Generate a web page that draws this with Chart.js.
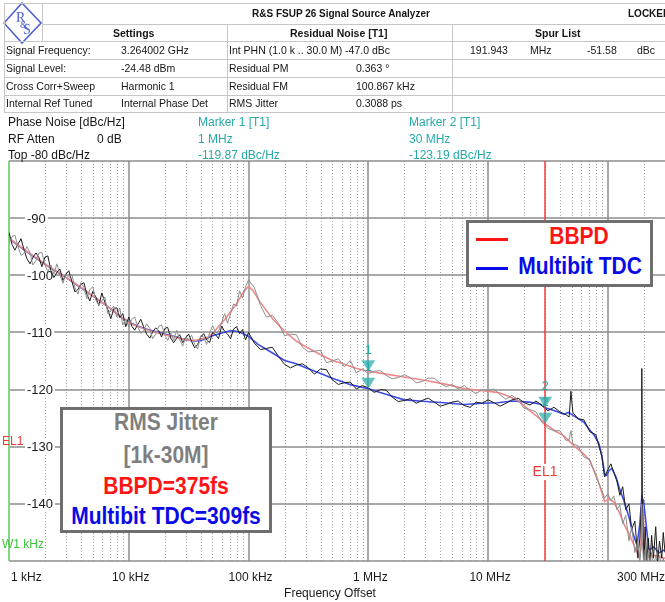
<!DOCTYPE html>
<html>
<head>
<meta charset="utf-8">
<script src="https://cdn.jsdelivr.net/npm/chart.js@4/dist/chart.umd.min.js"></script>
<style>
  html, body { margin:0; padding:0; background:#fff; width:665px; height:602px; overflow:hidden; position:relative;
    font-family:"Liberation Sans", Arial, sans-serif; }
  #chart { position:absolute; left:0; top:0; }
  .t { position:absolute; white-space:nowrap; font-size:10.5px; line-height:12px; color:#151515; }
  .b { font-weight:bold; }
  .hl { position:absolute; height:1px; background:#c6c6c6; }
  .vl { position:absolute; width:1px; background:#c6c6c6; }
  .info { position:absolute; white-space:nowrap; font-size:12px; line-height:14px; color:#151515; }
  .teal { color:#27a9a9; }
  .box { position:absolute; border:3px solid #6e6e6e; background:#fff; box-sizing:border-box; }
  .big { position:absolute; font-weight:bold; font-size:21px; line-height:21px; white-space:nowrap;
    transform:translate(-50%,-50%) scaleY(1.12); }
</style>
</head>
<body>
<canvas id="chart" width="665" height="602"></canvas>

<!-- instrument header table -->
<svg style="position:absolute;left:3px;top:2px" width="40" height="42">
  <polygon points="19,1 38,21 19,41 1,21" fill="none" stroke="#4f5fcf" stroke-width="1.6"/>
  <text x="13" y="20" font-family="Liberation Serif" font-size="14" fill="#4f5fcf">R</text>
  <text x="17" y="26" font-family="Liberation Serif" font-size="10" fill="#4f5fcf">&amp;</text>
  <text x="20" y="32" font-family="Liberation Serif" font-size="14" fill="#4f5fcf">S</text>
</svg>
<div class="hl" style="left:4px;top:3px;width:661px"></div>
<div class="vl" style="left:4px;top:3px;height:110px"></div>
<div class="vl" style="left:42px;top:3px;height:38px"></div>
<div class="hl" style="left:42px;top:24px;width:623px"></div>
<div class="hl" style="left:4px;top:41px;width:661px"></div>
<div class="hl" style="left:4px;top:59px;width:661px"></div>
<div class="hl" style="left:4px;top:77px;width:661px"></div>
<div class="hl" style="left:4px;top:95px;width:661px"></div>
<div class="hl" style="left:4px;top:112px;width:661px"></div>
<div class="vl" style="left:227px;top:24px;height:88px"></div>
<div class="vl" style="left:452px;top:24px;height:88px"></div>

<div class="t b" style="left:252px;top:8px;font-size:10px">R&amp;S FSUP 26 Signal Source Analyzer</div>
<div class="t b" style="left:628px;top:8px;font-size:10px">LOCKED</div>
<div class="t b" style="left:113px;top:27px">Settings</div>
<div class="t b" style="left:290px;top:27px">Residual Noise [T1]</div>
<div class="t b" style="left:535px;top:27px">Spur List</div>

<div class="t" style="left:6px;top:44px">Signal Frequency:</div>
<div class="t" style="left:121px;top:44px">3.264002 GHz</div>
<div class="t" style="left:229px;top:44px">Int PHN (1.0 k .. 30.0 M) -47.0 dBc</div>
<div class="t" style="left:470px;top:44px">191.943</div>
<div class="t" style="left:530px;top:44px">MHz</div>
<div class="t" style="left:587px;top:44px">-51.58</div>
<div class="t" style="left:637px;top:44px">dBc</div>

<div class="t" style="left:6px;top:62px">Signal Level:</div>
<div class="t" style="left:121px;top:62px">-24.48 dBm</div>
<div class="t" style="left:229px;top:62px">Residual PM</div>
<div class="t" style="left:356px;top:62px">0.363 °</div>

<div class="t" style="left:6px;top:80px">Cross Corr+Sweep</div>
<div class="t" style="left:121px;top:80px">Harmonic 1</div>
<div class="t" style="left:229px;top:80px">Residual FM</div>
<div class="t" style="left:356px;top:80px">100.867 kHz</div>

<div class="t" style="left:6px;top:97px">Internal Ref Tuned</div>
<div class="t" style="left:121px;top:97px">Internal Phase Det</div>
<div class="t" style="left:229px;top:97px">RMS Jitter</div>
<div class="t" style="left:356px;top:97px">0.3088 ps</div>

<!-- trace settings and marker readouts -->
<div class="info" style="left:8px;top:115px">Phase Noise [dBc/Hz]</div>
<div class="info" style="left:8px;top:132px">RF Atten</div>
<div class="info" style="left:97px;top:132px">0 dB</div>
<div class="info" style="left:8px;top:148px">Top -80 dBc/Hz</div>
<div class="info teal" style="left:198px;top:115px">Marker 1 [T1]</div>
<div class="info teal" style="left:198px;top:132px">1 MHz</div>
<div class="info teal" style="left:198px;top:148px">-119.87 dBc/Hz</div>
<div class="info teal" style="left:409px;top:115px">Marker 2 [T1]</div>
<div class="info teal" style="left:409px;top:132px">30 MHz</div>
<div class="info teal" style="left:409px;top:148px">-123.19 dBc/Hz</div>

<!-- legend -->
<div class="box" style="left:466px;top:220px;width:187px;height:67px"></div>
<div style="position:absolute;left:476px;top:238px;width:32px;height:3px;background:#ff1414"></div>
<div style="position:absolute;left:476px;top:267px;width:32px;height:3px;background:#0a0ae6"></div>
<div class="big" style="left:579px;top:236px;color:#ff1414">BBPD</div>
<div class="big" style="left:580px;top:266px;color:#0a0ae6">Multibit TDC</div>

<!-- integrated jitter summary -->
<div class="box" style="left:60px;top:407px;width:212px;height:126px"></div>
<div class="big" style="left:166px;top:422px;color:#7f7f7f">RMS Jitter</div>
<div class="big" style="left:166px;top:455px;color:#7f7f7f">[1k-30M]</div>
<div class="big" style="left:166px;top:486px;color:#ff1414">BBPD=375fs</div>
<div class="big" style="left:166px;top:516px;color:#0a0ae6">Multibit TDC=309fs</div>

<script>
// Offset frequencies (Hz) of the raw sweep points, shared by both raw traces
const rawFreqs = [
  1e3,1.06e3,1.12e3,1.19e3,1.26e3,1.33e3,1.41e3,1.5e3,1.58e3,1.68e3,1.78e3,1.88e3,2e3,2.11e3,2.24e3,2.37e3,2.51e3,2.66e3,2.82e3,2.99e3,
  3.16e3,3.35e3,3.55e3,3.76e3,3.98e3,4.22e3,4.47e3,4.73e3,5.01e3,5.31e3,5.62e3,5.96e3,6.31e3,6.68e3,7.08e3,7.5e3,7.94e3,8.41e3,8.91e3,9.44e3,
  1e4,1.06e4,1.12e4,1.19e4,1.26e4,1.33e4,1.41e4,1.5e4,1.58e4,1.68e4,1.78e4,1.88e4,2e4,2.11e4,2.24e4,2.37e4,2.51e4,2.66e4,2.82e4,2.99e4,
  3.16e4,3.35e4,3.55e4,3.76e4,3.98e4,4.22e4,4.47e4,4.73e4,5.01e4,5.31e4,5.62e4,5.96e4,6.31e4,6.68e4,7.08e4,7.5e4,7.94e4,8.41e4,8.91e4,9.44e4,
  1e5,1.12e5,1.26e5,1.41e5,1.58e5,1.78e5,2e5,2.24e5,2.51e5,2.82e5,3.16e5,3.55e5,3.98e5,4.47e5,5.01e5,5.62e5,6.31e5,7.08e5,7.94e5,8.91e5,
  1e6,1.12e6,1.26e6,1.41e6,1.58e6,1.78e6,2e6,2.24e6,2.51e6,2.82e6,3.16e6,3.55e6,3.98e6,4.47e6,5.01e6,5.62e6,6.31e6,7.08e6,7.94e6,8.91e6,
  1e7,1.12e7,1.26e7,1.41e7,1.58e7,1.78e7,2e7,2.24e7,2.51e7,2.82e7,3.16e7,3.55e7,3.98e7,4.47e7,4.75e7,4.92e7,5.1e7,5.62e7,6.31e7,7.08e7,7.94e7,8.91e7,9.4e7,
  1e8,1.06e8,1.12e8,1.19e8,1.26e8,1.33e8,1.41e8,1.5e8,1.58e8,1.68e8,1.78e8,1.85e8,1.9e8,1.92e8,1.94e8,2e8,2.05e8,2.11e8,2.18e8,2.24e8,2.32e8,2.4e8,2.51e8,2.6e8,2.7e8,2.82e8,2.9e8,3e8
];

// Raw phase noise, Multibit TDC loop (dBc/Hz)
const tdcRaw = [
  -92.5,-94.6,-95.6,-94.5,-93.6,-95.4,-97.1,-98.0,-96.9,-96.1,-96.9,-98.5,-96.8,-96.6,-99.2,-100.4,-99.5,-98.9,-100.9,-99.8,
  -99.2,-101.1,-102.9,-102.5,-101.6,-101.3,-103.3,-104.5,-102.8,-103.8,-105.3,-103.1,-104.7,-106.0,-107.6,-105.8,-105.7,-107.4,-106.7,-109.0,
  -107.3,-108.9,-109.6,-108.6,-107.7,-109.0,-110.3,-111.0,-109.9,-109.2,-109.7,-110.8,-109.3,-109.1,-111.0,-111.8,-111.0,-110.4,-111.8,-110.9,
  -110.3,-111.6,-112.7,-112.1,-110.9,-110.2,-111.3,-111.8,-110.0,-110.4,-111.1,-108.9,-109.8,-110.3,-111.1,-109.4,-109.0,-110.2,-109.5,-111.3,
  -110.0,-111.9,-113.0,-112.8,-112.6,-114.2,-115.6,-116.2,-115.7,-115.5,-116.2,-117.3,-116.4,-116.5,-118.3,-119.1,-118.8,-118.7,-119.9,-119.3,
  -119.7,-120.5,-120.0,-120.1,-121.3,-122.1,-121.9,-121.6,-122.4,-121.9,-121.5,-122.2,-122.9,-122.6,-122.2,-122.0,-122.8,-123.1,-122.2,-122.4,
  -121.8,-122.3,-122.9,-122.4,-121.8,-121.5,-122.3,-122.7,-122.0,-122.8,-123.7,-123.1,-123.9,-124.4,-124.8,-120.3,-124.0,-125.1,-125.3,-127.4,-127.9,-131.7,-135.3,
  -134.0,-133.0,-134.5,-136.0,-138.5,-137.0,-141.0,-140.0,-144.5,-143.0,-149.5,-146.0,-140.5,-116.3,-139.0,-151.0,-144.0,-150.5,-146.0,-151.0,-145.5,-149.5,-144.0,-150.5,-146.5,-149.5,-145.0,-148.5
];

// Raw phase noise, BBPD loop (dBc/Hz)
const bbpdRaw = [
  -94.5,-93.2,-93.0,-95.0,-96.5,-96.2,-95.0,-96.0,-98.2,-97.4,-96.1,-96.0,-98.2,-99.4,-98.2,-99.8,-98.0,-99.9,-101.4,-99.7,
  -100.4,-99.9,-102.1,-103.3,-101.3,-102.1,-104.1,-102.5,-102.0,-104.4,-105.2,-104.5,-103.8,-106.7,-106.0,-105.4,-107.3,-105.7,-108.7,-107.6,
  -109.0,-107.7,-107.3,-109.0,-110.2,-109.7,-108.5,-109.3,-111.1,-110.3,-108.9,-108.7,-110.4,-111.4,-110.1,-111.4,-109.6,-111.3,-112.4,-110.8,
  -111.2,-110.5,-112.1,-112.9,-110.6,-110.8,-112.1,-110.1,-108.8,-110.1,-109.8,-108.3,-106.7,-108.4,-106.7,-105.0,-105.4,-102.7,-104.0,-102.0,
  -100.8,-102.2,-105.3,-107.3,-107.0,-108.4,-110.6,-110.3,-110.4,-112.6,-113.4,-113.3,-113.1,-115.3,-115.0,-114.6,-116.0,-114.9,-117.1,-116.4,
  -117.2,-116.8,-116.7,-117.5,-118.1,-117.9,-117.4,-117.9,-118.8,-118.6,-118.0,-118.0,-118.9,-119.5,-119.1,-119.9,-119.3,-120.1,-120.7,-120.0,
  -120.2,-119.9,-120.9,-121.7,-121.0,-121.8,-123.3,-123.5,-123.9,-125.7,-126.8,-127.2,-127.2,-128.9,-128.8,-127.2,-129.5,-129.8,-131.8,-132.3,-135.2,-137.6,-139.0,
  -138.2,-139.5,-138.6,-141.0,-140.2,-143.5,-142.0,-146.5,-144.0,-148.5,-146.5,-150.5,-147.0,-140.0,-146.5,-151.0,-148.0,-151.0,-148.0,-151.0,-148.5,-151.0,-149.0,-151.0,-149.0,-151.0,-149.5,-151.0
];

// Smoothed traces
const tdcFreqs = [
  1e3,1.5e3,2e3,3e3,4e3,5e3,6e3,7e3,8e3,9e3,1e4,1.2e4,1.5e4,2e4,2.5e4,3e4,3.5e4,4e4,4.5e4,5e4,6e4,7e4,8e4,9e4,
  1e5,1.2e5,1.5e5,2e5,2.5e5,3e5,4e5,5e5,6e5,7e5,8e5,1e6,1.4e6,2e6,3e6,4.3e6,6.3e6,9e6,1.2e7,1.6e7,2.2e7,2.7e7,
  3e7,3.6e7,4.3e7,4.7e7,5.2e7,6.3e7,7e7,7.7e7,8.4e7,8.9e7,9.4e7,9.8e7,1.02e8,1.08e8,1.17e8,1.24e8,1.36e8,1.5e8,
  1.62e8,1.75e8,1.85e8,1.92e8,1.99e8,2.11e8,2.2e8,2.42e8,2.66e8,2.93e8,3e8
];
const tdcSmooth = [
  -93.6,-96.3,-98.1,-100.4,-102.2,-103.6,-104.8,-105.8,-106.8,-107.6,-108.2,-108.9,-109.6,-110.3,-110.8,-111.3,-111.5,-111.4,-111.0,-110.6,-110.1,-109.7,-109.8,-110.2,
  -110.7,-112.1,-113.3,-114.9,-115.5,-116.2,-117.2,-118.0,-118.6,-119.1,-119.4,-119.87,-120.8,-121.8,-122.1,-122.3,-122.6,-122.4,-122.3,-122.0,-122.2,-122.5,
  -123.19,-123.7,-124.3,-124.0,-124.6,-125.7,-127.0,-128.0,-129.4,-131.5,-134.8,-135.0,-134.2,-133.8,-135.3,-137.1,-139.4,-142.3,
  -145.2,-147.2,-143.5,-138.8,-139.6,-144.5,-148.1,-147.5,-148.6,-148.1,-148.3
];

const bbpdFreqs = [
  1e3,1.5e3,2e3,3e3,4e3,5e3,6e3,7e3,8e3,9e3,1e4,1.2e4,1.5e4,2e4,2.5e4,3e4,3.5e4,4e4,4.5e4,5e4,5.6e4,6.3e4,7e4,8e4,9e4,
  1e5,1.1e5,1.25e5,1.4e5,1.6e5,1.8e5,2e5,2.5e5,3e5,4e5,5e5,6e5,7e5,8e5,1e6,1.4e6,2e6,3e6,4.3e6,6.3e6,9e6,1.1e7,1.26e7,1.5e7,1.8e7,2.2e7,2.7e7,
  3e7,3.6e7,4.3e7,5.2e7,6.3e7,7e7,8e7,8.9e7,9.4e7,1.02e8,1.12e8,1.24e8,1.36e8,1.5e8,1.65e8,1.82e8,1.88e8,1.92e8,1.97e8,2.03e8,2.2e8,2.5e8,2.93e8,3e8
];
const bbpdSmooth = [
  -93.5,-96.2,-98.0,-100.4,-102.1,-103.6,-104.8,-105.8,-106.8,-107.6,-108.3,-109.0,-109.7,-110.4,-110.9,-111.3,-111.4,-111.2,-110.9,-110.2,-109.0,-107.8,-106.5,-104.9,-103.0,
  -101.9,-102.8,-104.7,-106.1,-107.7,-108.8,-109.8,-111.5,-112.5,-113.9,-114.9,-115.4,-115.9,-116.3,-116.8,-117.3,-117.8,-118.4,-119.0,-119.8,-120.2,-120.4,-120.6,-121.2,-122.0,-123.6,-125.1,
  -126.0,-127.2,-128.1,-129.8,-131.3,-132.3,-135.0,-138.0,-139.6,-139.1,-139.7,-141.4,-143.5,-145.2,-147.2,-149.3,-148.0,-139.5,-141.0,-149.8,-149.2,-149.0,-149.5,-149.5
];

// Markers: frequency and the level read on each trace
const markerNames = ['1', '2'];
const markerFreqs = [1e6, 3e7];
const markerTdc = [-119.87, -123.19];
const markerBbpd = [-116.8, -126.0];

// Integration limit line
const limitFreq = 3e7;

// Axis ticks
const decadeFreqs = [1e3, 1e4, 1e5, 1e6, 1e7, 1e8];
const minorMantissas = [2, 3, 4, 5, 6, 7, 8, 9];
const xLabelFreqs = [1e3, 1e4, 1e5, 1e6, 1e7, 3e8];
const xLabels = ['1 kHz', '10 kHz', '100 kHz', '1 MHz', '10 MHz', '300 MHz'];
const levelLines = [-80, -90, -100, -110, -120, -130, -140, -150];
const levelLabels = [-90, -100, -110, -120, -130, -140];

const pts = (fs, vs) => fs.map((f, i) => ({ x: f, y: vs[i] }));

const analyzerGrid = {
  id: 'analyzerGrid',
  beforeDatasetsDraw(chart) {
    const { ctx, chartArea: a, scales: { x, y } } = chart;
    ctx.save();
    // dotted minor frequency lines
    ctx.strokeStyle = '#a2a2a2';
    ctx.lineWidth = 1;
    ctx.setLineDash([1, 2]);
    for (const d of decadeFreqs) {
      for (const m of minorMantissas) {
        const f = d * m;
        if (f > x.max) continue;
        const px = Math.round(x.getPixelForValue(f)) + 0.5;
        ctx.beginPath(); ctx.moveTo(px, a.top); ctx.lineTo(px, a.bottom); ctx.stroke();
      }
    }
    ctx.setLineDash([]);
    // decade lines
    ctx.strokeStyle = '#8d8d8d';
    ctx.lineWidth = 1.5;
    for (const d of decadeFreqs) {
      const px = Math.round(x.getPixelForValue(d));
      if (px <= a.left + 1) continue;
      ctx.beginPath(); ctx.moveTo(px, a.top); ctx.lineTo(px, a.bottom); ctx.stroke();
    }
    // level lines
    for (const v of levelLines) {
      const py = Math.round(y.getPixelForValue(v));
      ctx.beginPath(); ctx.moveTo(a.left, py); ctx.lineTo(a.right, py); ctx.stroke();
    }
    // left frame edge
    ctx.strokeStyle = '#86d486';
    ctx.lineWidth = 2;
    ctx.beginPath(); ctx.moveTo(a.left, a.top); ctx.lineTo(a.left, a.bottom); ctx.stroke();
    // level labels inside the grid
    ctx.font = '13px "Liberation Sans", Arial, sans-serif';
    ctx.textBaseline = 'middle';
    ctx.textAlign = 'left';
    for (const v of levelLabels) {
      const py = y.getPixelForValue(v);
      const txt = String(v);
      const w = ctx.measureText(txt).width;
      ctx.fillStyle = '#fff';
      ctx.fillRect(25, py - 7, w + 4, 14);
      ctx.fillStyle = '#1a1a1a';
      ctx.fillText(txt, 27, py + 1);
    }
    ctx.restore();
  },
  afterDatasetsDraw(chart) {
    const { ctx, chartArea: a, scales: { x, y } } = chart;
    ctx.save();
    // limit line EL1
    const lx = Math.round(x.getPixelForValue(limitFreq));
    ctx.strokeStyle = '#f23a3a';
    ctx.lineWidth = 1.5;
    ctx.beginPath(); ctx.moveTo(lx, a.top); ctx.lineTo(lx, a.bottom); ctx.stroke();
    ctx.font = '14px "Liberation Sans", Arial, sans-serif';
    ctx.textAlign = 'center';
    ctx.textBaseline = 'middle';
    const elw = ctx.measureText('EL1').width;
    ctx.fillStyle = '#fff';
    ctx.fillRect(lx - elw / 2 - 1, 464, elw + 2, 16);
    ctx.fillStyle = '#f23a3a';
    ctx.fillText('EL1', lx, 472);
    // markers, tip placed on the trace level
    const drawMarker = (f, v, name) => {
      const px = x.getPixelForValue(f), py = y.getPixelForValue(v);
      ctx.fillStyle = 'rgba(40,170,170,0.72)';
      ctx.beginPath();
      ctx.moveTo(px - 7, py - 11); ctx.lineTo(px + 7, py - 11); ctx.lineTo(px, py);
      ctx.closePath(); ctx.fill();
      ctx.fillStyle = '#27a9a9';
      ctx.font = '13px "Liberation Sans", Arial, sans-serif';
      ctx.textAlign = 'center';
      ctx.fillText(name, px, py - 21);
    };
    markerFreqs.forEach((f, i) => {
      drawMarker(f, markerBbpd[i], markerNames[i]);
      drawMarker(f, markerTdc[i], markerNames[i]);
    });
    ctx.restore();
  },
  afterDraw(chart) {
    const { ctx, chartArea: a, scales: { x } } = chart;
    ctx.save();
    ctx.fillStyle = '#1a1a1a';
    ctx.font = '12px "Liberation Sans", Arial, sans-serif';
    ctx.textBaseline = 'middle';
    xLabelFreqs.forEach((f, i) => {
      const px = x.getPixelForValue(f);
      if (i === 0) { ctx.textAlign = 'left'; ctx.fillText(xLabels[i], px + 2, 578); }
      else if (i === xLabels.length - 1) { ctx.textAlign = 'right'; ctx.fillText(xLabels[i], a.right, 578); }
      else { ctx.textAlign = 'center'; ctx.fillText(xLabels[i], px + 2, 578); }
    });
    ctx.textAlign = 'center';
    ctx.fillText('Frequency Offset', 330, 594);
    // side annotations
    ctx.textAlign = 'left';
    ctx.fillStyle = '#f23a3a';
    ctx.fillText('EL1', 2, 442);
    ctx.fillStyle = '#3cc23c';
    ctx.fillText('W1 kHz', 2, 545);
    ctx.restore();
  }
};

new Chart(document.getElementById('chart'), {
  type: 'line',
  data: {
    datasets: [
      { label: 'BBPD raw', data: pts(rawFreqs, bbpdRaw), borderColor: '#8e8e8e', borderWidth: 1 },
      { label: 'Multibit TDC raw', data: pts(rawFreqs, tdcRaw), borderColor: '#1c1c1c', borderWidth: 1 },
      { label: 'BBPD', data: pts(bbpdFreqs, bbpdSmooth), borderColor: '#ef8a8a', borderWidth: 1.6 },
      { label: 'Multibit TDC', data: pts(tdcFreqs, tdcSmooth), borderColor: '#3b4ce4', borderWidth: 1.6 }
    ]
  },
  options: {
    responsive: false,
    animation: false,
    layout: { padding: { left: 9, top: 161, right: 0, bottom: 41 } },
    elements: { point: { radius: 0 }, line: { tension: 0 } },
    scales: {
      x: { type: 'logarithmic', min: 1e3, max: 3e8, display: false },
      y: { type: 'linear', min: -150, max: -80, display: false }
    },
    plugins: { legend: { display: false }, tooltip: { enabled: false } }
  },
  plugins: [analyzerGrid]
});
</script>
</body>
</html>
